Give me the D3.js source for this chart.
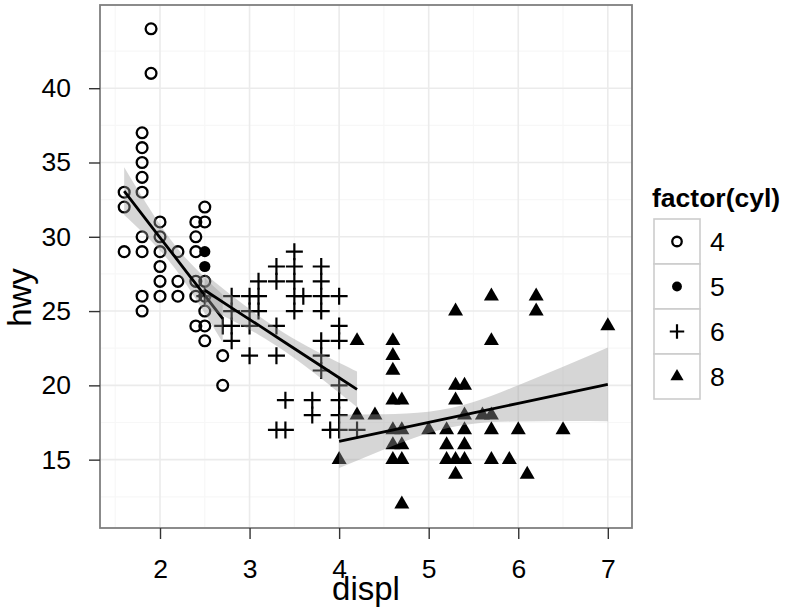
<!DOCTYPE html>
<html>
<head>
<meta charset="utf-8">
<script src="https://cdn.jsdelivr.net/npm/d3@7/dist/d3.min.js"></script>
<style>
  html, body { margin: 0; padding: 0; background: #ffffff; }
  svg { display: block; }
  text { font-family: "Liberation Sans", Arial, Helvetica, sans-serif; fill: #000; }
</style>
</head>
<body>
<svg id="chart" width="787" height="611"></svg>
<script>
// Engine displacement (L) and highway mileage, grouped by cylinder count
const displ4 = [1.6,1.6,1.6, 1.8,1.8,1.8,1.8,1.8,1.8,1.8,1.8,1.8, 1.9,1.9, 2.0,2.0,2.0,2.0,2.0,2.0, 2.2,2.2,2.2, 2.4,2.4,2.4,2.4,2.4,2.4, 2.5,2.5,2.5,2.5,2.5,2.5,2.5, 2.7,2.7];
const hwy4   = [29,32,33, 25,26,29,30,33,34,35,36,37, 41,44, 26,27,28,29,30,31, 26,27,29, 24,26,27,29,30,31, 23,24,25,26,27,31,32, 20,22];

const displ5 = [2.5, 2.5];
const hwy5   = [28, 29];

const displ6 = [2.5, 2.7, 2.8,2.8,2.8,2.8, 3.0,3.0,3.0,3.0, 3.1,3.1,3.1, 3.3,3.3,3.3,3.3,3.3, 3.4,3.4, 3.5,3.5,3.5,3.5,3.5, 3.6, 3.7,3.7, 3.8,3.8,3.8,3.8,3.8,3.8,3.8, 3.9, 4.0,4.0,4.0,4.0,4.0,4.0,4.0, 4.2];
const hwy6   = [26, 24, 23,24,25,26, 22,24,25,26, 25,26,27, 17,22,24,27,28, 17,19, 25,26,27,28,29, 26, 18,19, 21,22,23,25,26,27,28, 17, 17,18,19,20,23,24,26, 17];

const displ8 = [4.0, 4.2,4.2, 4.4, 4.6,4.6,4.6,4.6,4.6,4.6,4.6, 4.7,4.7,4.7,4.7,4.7, 5.0, 5.2,5.2,5.2, 5.3,5.3,5.3,5.3,5.3, 5.4,5.4,5.4,5.4,5.4, 5.6, 5.7,5.7,5.7,5.7,5.7, 5.9, 6.0, 6.1, 6.2,6.2, 6.5, 7.0];
const hwy8   = [15, 18,23, 18, 15,16,17,19,21,22,23, 12,15,16,17,19, 17, 15,16,17, 14,15,19,20,25, 15,16,17,18,20, 18, 15,17,18,23,26, 15, 17, 14, 25,26, 17, 24];

// Linear fits per group with 95% confidence limits, sampled along each group's range
const fitX4  = [1.6, 1.8, 2.0, 2.15, 2.3, 2.5, 2.7];
const fitY4  = [33.07, 31.51, 29.95, 28.78, 27.61, 26.05, 24.49];
const fitLo4 = [31.46, 30.32, 29.08, 28.00, 26.74, 24.86, 22.88];
const fitHi4 = [34.68, 32.70, 30.82, 29.56, 28.48, 27.24, 26.10];

const fitX6  = [2.5, 2.8, 3.1, 3.4, 3.7, 4.0, 4.2];
const fitY6  = [26.40, 25.22, 24.05, 22.87, 21.69, 20.51, 19.73];
const fitLo6 = [25.30, 24.39, 23.41, 22.26, 20.93, 19.50, 18.53];
const fitHi6 = [27.50, 26.05, 24.69, 23.48, 22.45, 21.52, 20.93];

const fitX8  = [4.0, 4.5, 5.0, 5.5, 6.0, 6.5, 7.0];
const fitY8  = [16.23, 16.87, 17.51, 18.15, 18.79, 19.43, 20.07];
const fitLo8 = [14.44, 15.68, 16.79, 17.42, 17.57, 17.60, 17.59];
const fitHi8 = [18.02, 18.06, 18.23, 18.88, 20.01, 21.26, 22.55];

const cylLevels = ["4", "5", "6", "8"];
const xTicks = [2, 3, 4, 5, 6, 7];
const yTicks = [15, 20, 25, 30, 35, 40];
const xMinor = [1.5, 2.5, 3.5, 4.5, 5.5, 6.5];
const yMinor = [12.5, 17.5, 22.5, 27.5, 32.5, 37.5, 42.5];

const groups = [
  { cyl: "4", xs: displ4, ys: hwy4 },
  { cyl: "5", xs: displ5, ys: hwy5 },
  { cyl: "6", xs: displ6, ys: hwy6 },
  { cyl: "8", xs: displ8, ys: hwy8 }
];
const fits = [
  { x: fitX4, y: fitY4, lo: fitLo4, hi: fitHi4 },
  { x: fitX6, y: fitY6, lo: fitLo6, hi: fitHi6 },
  { x: fitX8, y: fitY8, lo: fitLo8, hi: fitHi8 }
];

const panel = { left: 100, right: 632, top: 5, bottom: 528 };
const svg = d3.select("#chart");

// 5% padding around the data range on both axes
const allX = displ4.concat(displ5, displ6, displ8);
const allY = hwy4.concat(hwy5, hwy6, hwy8);
const [x0, x1] = d3.extent(allX), [y0, y1] = d3.extent(allY);
const px = (x1 - x0) * 0.05, py = (y1 - y0) * 0.05;
const x = d3.scaleLinear().domain([x0 - px, x1 + px]).range([panel.left, panel.right]);
const y = d3.scaleLinear().domain([y0 - py, y1 + py]).range([panel.bottom, panel.top]);

// Panel background and grid
svg.append("rect")
  .attr("x", panel.left).attr("y", panel.top)
  .attr("width", panel.right - panel.left).attr("height", panel.bottom - panel.top)
  .attr("fill", "#ffffff");

const grid = svg.append("g");
grid.selectAll(".xminor").data(xMinor).join("line")
  .attr("x1", d => x(d)).attr("x2", d => x(d))
  .attr("y1", panel.top).attr("y2", panel.bottom)
  .attr("stroke", "#f7f7f7").attr("stroke-width", 1.2);
grid.selectAll(".yminor").data(yMinor).join("line")
  .attr("y1", d => y(d)).attr("y2", d => y(d))
  .attr("x1", panel.left).attr("x2", panel.right)
  .attr("stroke", "#f7f7f7").attr("stroke-width", 1.2);
grid.selectAll(".xmajor").data(xTicks).join("line")
  .attr("x1", d => x(d)).attr("x2", d => x(d))
  .attr("y1", panel.top).attr("y2", panel.bottom)
  .attr("stroke", "#ebebeb").attr("stroke-width", 1.6);
grid.selectAll(".ymajor").data(yTicks).join("line")
  .attr("y1", d => y(d)).attr("y2", d => y(d))
  .attr("x1", panel.left).attr("x2", panel.right)
  .attr("stroke", "#ebebeb").attr("stroke-width", 1.6);

// Point shapes per cylinder count
function drawShape(sel, cyl, cx, cy, scale) {
  const s = scale || 1;
  if (cyl === "4") {
    sel.append("circle").attr("cx", cx).attr("cy", cy).attr("r", 5.4 * s)
      .attr("fill", "none").attr("stroke", "#000").attr("stroke-width", 2.3);
  } else if (cyl === "5") {
    sel.append("circle").attr("cx", cx).attr("cy", cy).attr("r", 5.6 * s)
      .attr("fill", "#000");
  } else if (cyl === "6") {
    const a = 8.5 * s;
    sel.append("path")
      .attr("d", `M${cx - a},${cy}H${cx + a}M${cx},${cy - a}V${cy + a}`)
      .attr("stroke", "#000").attr("stroke-width", 2.2).attr("fill", "none");
  } else {
    const side = 15 * s;
    const area = Math.sqrt(3) / 4 * side * side;
    sel.append("path")
      .attr("transform", `translate(${cx},${cy})`)
      .attr("d", d3.symbol(d3.symbolTriangle, area)())
      .attr("fill", "#000");
  }
}

const pts = svg.append("g");
groups.forEach(g => {
  g.xs.forEach((dx, i) => drawShape(pts, g.cyl, x(dx), y(g.ys[i])));
});

// Smoothers: ribbon then line for each group
const smooth = svg.append("g");
fits.forEach(f => {
  const idx = d3.range(f.x.length);
  const band = d3.area()
    .x(i => x(f.x[i])).y0(i => y(f.lo[i])).y1(i => y(f.hi[i]))
    .curve(d3.curveNatural);
  smooth.append("path").attr("d", band(idx))
    .attr("fill", "#999999").attr("fill-opacity", 0.4);
  const line = d3.line().x(i => x(f.x[i])).y(i => y(f.y[i]));
  smooth.append("path").attr("d", line(idx))
    .attr("fill", "none").attr("stroke", "#000").attr("stroke-width", 2.8);
});

// Panel border
svg.append("rect")
  .attr("x", panel.left).attr("y", panel.top)
  .attr("width", panel.right - panel.left).attr("height", panel.bottom - panel.top)
  .attr("fill", "none").attr("stroke", "#7f7f7f").attr("stroke-width", 1.8);

// Axes
const xAxis = d3.axisBottom(x).tickValues(xTicks).tickSize(11).tickPadding(20).tickFormat(d3.format("d"));
const yAxis = d3.axisLeft(y).tickValues(yTicks).tickSize(11).tickPadding(18).tickFormat(d3.format("d"));

const gx = svg.append("g").attr("transform", `translate(0,${panel.bottom})`).call(xAxis);
const gy = svg.append("g").attr("transform", `translate(${panel.left},0)`).call(yAxis);
[gx, gy].forEach(g => {
  g.select(".domain").remove();
  g.selectAll(".tick line").attr("stroke", "#333").attr("stroke-width", 1.4);
  g.selectAll(".tick text").attr("font-size", 26.5).attr("fill", "#000")
    .attr("font-family", "'Liberation Sans', Arial, Helvetica, sans-serif");
});

// Axis titles
svg.append("text").attr("x", (panel.left + panel.right) / 2).attr("y", 600)
  .attr("text-anchor", "middle").attr("font-size", 33).text("displ");
svg.append("text")
  .attr("transform", `translate(31,${(panel.top + panel.bottom) / 2 + 31}) rotate(-90)`)
  .attr("text-anchor", "middle").attr("font-size", 33).text("hwy");

// Legend
const leg = svg.append("g");
leg.append("text").attr("x", 652).attr("y", 207)
  .attr("font-size", 26.5).attr("font-weight", "bold").text("factor(cyl)");
const keyX = 654, keyW = 46, keyTop = 219, keyH = 45;
cylLevels.forEach((c, i) => {
  const ky = keyTop + i * keyH;
  leg.append("rect").attr("x", keyX).attr("y", ky).attr("width", keyW).attr("height", keyH)
    .attr("fill", "#ffffff").attr("stroke", "#cccccc").attr("stroke-width", 1.6);
  drawShape(leg, c, keyX + keyW / 2, ky + keyH / 2, c === "6" ? 0.85 : 0.88);
  leg.append("text").attr("x", keyX + keyW + 10).attr("y", ky + keyH / 2 + 9.5)
    .attr("font-size", 26.5).text(c);
});
</script>
</body>
</html>
